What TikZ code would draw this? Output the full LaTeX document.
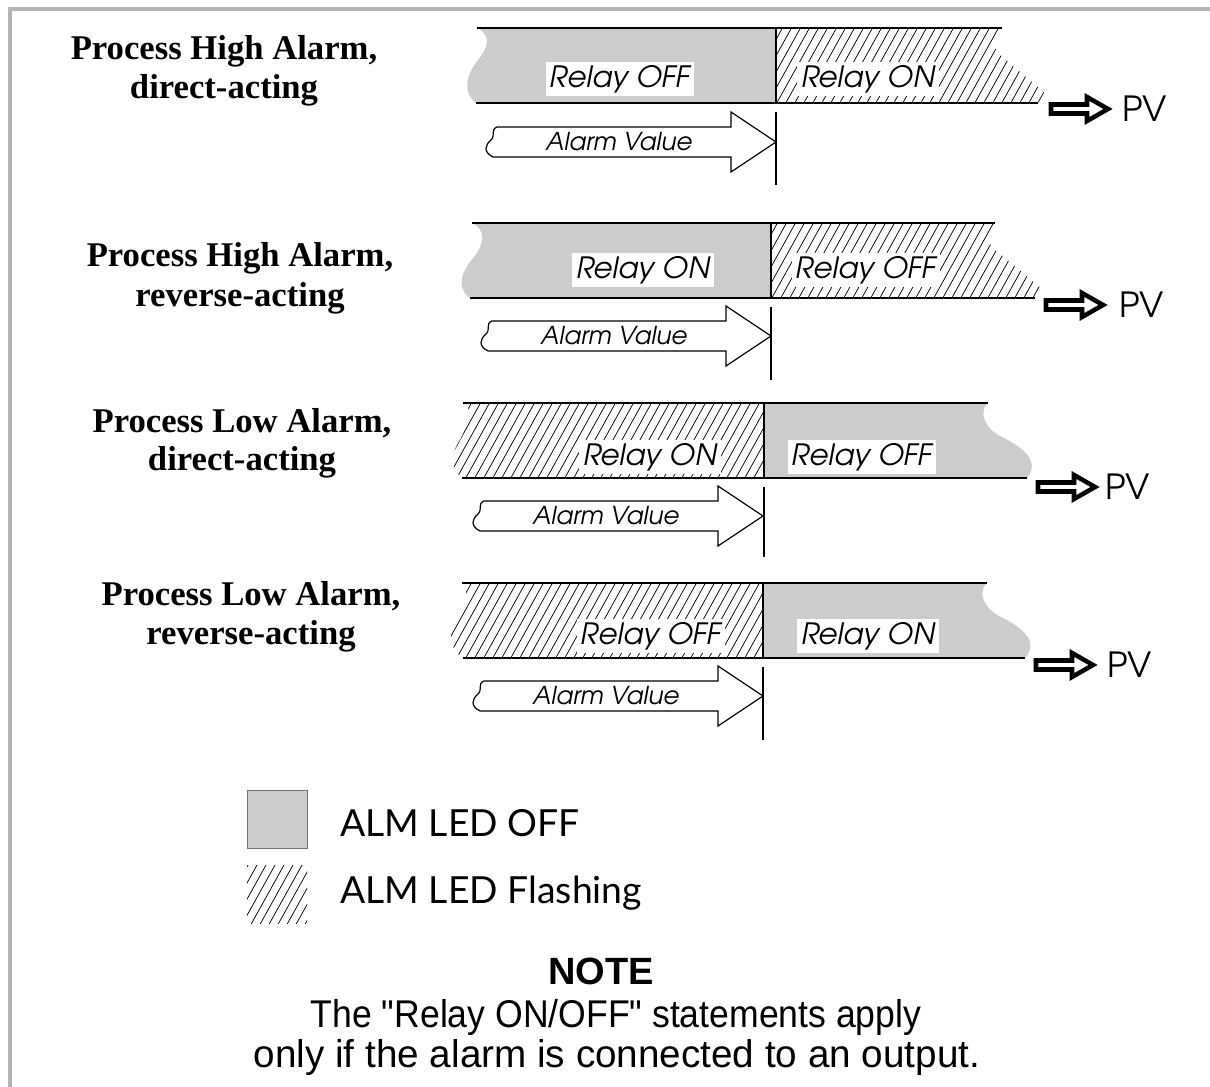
\documentclass[tikz,border=0pt]{standalone}
\usepackage{fontspec}
\setmainfont{Liberation Sans}
\newfontfamily\titlefont{Liberation Serif}
\newfontfamily\gothic[ItalicFont=texgyreadventor-italic.otf]{texgyreadventor-regular.otf}
\newfontfamily\legendfont{Lato}
\newcommand{\straightquote}{\XeTeXglyph\numexpr\XeTeXcharglyph"22\relax}
\definecolor{barfill}{RGB}{204,204,204}
\definecolor{framegray}{RGB}{180,180,180}
\tikzset{
  barline/.style={line width=1.1pt},
  splitline/.style={line width=0.9pt},
  hatchline/.style={line width=0.55pt},
  grayarea/.style={fill=barfill},
  relay/.style={font=\gothic\itshape\fontsize{22}{24}\selectfont, fill=white, inner xsep=3pt, inner ysep=2pt},
  valtext/.style={font=\gothic\itshape\fontsize{18.5}{20}\selectfont, inner sep=0pt},
  valarrow/.style={draw, line width=0.9pt, fill=white, line join=miter},
  pvarrow/.style={draw, line width=3.4pt, fill=white, line join=miter},
  pvtext/.style={font=\gothic\fontsize{26}{28}\selectfont, anchor=west, inner sep=0pt},
  title/.style={font=\titlefont\bfseries\fontsize{26}{28}\selectfont, inner sep=0pt},
  legendtext/.style={font=\legendfont\fontsize{28}{30}\selectfont, anchor=west, inner sep=0pt},
  notetext/.style={font=\fontsize{29}{31}\selectfont, anchor=base, inner sep=0pt},
}
% #1 tip x, #2 centre y
\newcommand{\valuearrow}[2]{%
  \draw[valarrow] ({#1-45},{#2-15}) -- ({#1-45},{#2-30}) -- (#1,#2) -- ({#1-45},{#2+30}) -- ({#1-45},{#2+15})
    -- ({#1-283},{#2+15}) .. controls ({#1-293},{#2+10}) and ({#1-291},{#2+3}) .. ({#1-285},{#2-2})
    .. controls ({#1-280},{#2-7}) and ({#1-286},{#2-12}) .. ({#1-279},{#2-15}) -- cycle;
}
% #1 left x, #2 centre y
\newcommand{\pvshape}[2]{%
  \draw[pvarrow] ({#1+3},{#2-4.5}) -- ({#1+39},{#2-4.5}) -- ({#1+39},{#2-12}) -- ({#1+60},{#2}) -- ({#1+39},{#2+12}) -- ({#1+39},{#2+4.5}) -- ({#1+3},{#2+4.5}) -- cycle;
}
% #1 x start, #2 y bottom, #3 count
\newcommand{\hatchfill}[3]{%
  \foreach \k in {0,...,#3} { \draw[hatchline] ({#1+9*\k},{#2+5}) -- ++(50,-90); }
}
\begin{document}
\begin{tikzpicture}[x=0.75pt,y=-0.75pt]
\useasboundingbox (0,0) rectangle (1210,1087);
\fill[white] (0,0) rectangle (1210,1087);
% frame
\draw[framegray, line width=3.5pt] (10,1087) -- (10,9) -- (1210,9);

% ---------- Diagram 1 ----------
\fill[grayarea] (776,28) -- (477,28) .. controls (492,35) and (488,48) .. (478,60) .. controls (466,75) and (462,92) .. (476,103) -- (776,103) -- cycle;
\begin{scope}
  \clip (776,28) -- (1002,28) -- (993,45) -- (998,53) -- (1047,95) -- (1038,103) -- (776,103) -- cycle;
  \hatchfill{720}{103}{38}
\end{scope}
\draw[barline] (477,28) -- (1002,28);
\draw[barline] (476,103) -- (1038,103);
\draw[splitline] (776,28) -- (776,103);
\draw[splitline] (776,112) -- (776,185);
\node[relay] (d1a) at (620,79) {Relay OFF};
\node[relay] (d1b) at (868,79) {Relay ON};
\valuearrow{776}{142}
\node[valtext] (d1v) at (619,142) {Alarm Value};
\pvshape{1048}{109}
\node[pvtext] (d1pv) at (1122,109) {PV};
\node[title] (t1a) at (224,51) {Process High Alarm,};
\node[title] (t1b) at (224,90) {direct-acting};

% ---------- Diagram 2 ----------
\fill[grayarea] (771,223) -- (472,223) .. controls (487,230) and (484,245) .. (474,257) .. controls (461,272) and (456,288) .. (470,298) -- (771,298) -- cycle;
\begin{scope}
  \clip (771,223) -- (995,223) -- (987,240) -- (993,248) -- (1042,289) -- (1035,298) -- (771,298) -- cycle;
  \hatchfill{715}{298}{38}
\end{scope}
\draw[barline] (472,223) -- (995,223);
\draw[barline] (470,298) -- (1035,298);
\draw[splitline] (771,223) -- (771,298);
\draw[splitline] (771,307) -- (771,380);
\node[relay] (d2a) at (643,270) {Relay ON};
\node[relay] (d2b) at (866,270) {Relay OFF};
\valuearrow{771}{336}
\node[valtext] (d2v) at (614,336) {Alarm Value};
\pvshape{1043}{305}
\node[pvtext] (d2pv) at (1119,305) {PV};
\node[title] (t2a) at (240,258) {Process High Alarm,};
\node[title] (t2b) at (240,298) {reverse-acting};

% ---------- Diagram 3 ----------
\begin{scope}
  \clip (764,403) -- (466,403) .. controls (472,412) and (468,425) .. (460,440) .. controls (450,455) and (450,468) .. (462,478) -- (764,478) -- cycle;
  \hatchfill{400}{478}{42}
\end{scope}
\fill[grayarea] (764,403) -- (988,403) .. controls (978,412) and (985,428) .. (1000,436) .. controls (1025,448) and (1040,462) .. (1027,478) -- (764,478) -- cycle;
\draw[barline] (463,403) -- (988,403);
\draw[barline] (462,478) -- (1027,478);
\draw[splitline] (764,403) -- (764,478);
\draw[splitline] (764,487) -- (764,557);
\node[relay] (d3a) at (650,457) {Relay ON};
\node[relay] (d3b) at (862,457) {Relay OFF};
\valuearrow{763}{516}
\node[valtext] (d3v) at (606,516) {Alarm Value};
\pvshape{1035}{487}
\node[pvtext] (d3pv) at (1105,487) {PV};
\node[title] (t3a) at (242,423) {Process Low Alarm,};
\node[title] (t3b) at (242,462) {direct-acting};

% ---------- Diagram 4 ----------
\begin{scope}
  \clip (763,583) -- (462,583) .. controls (470,592) and (466,605) .. (458,618) .. controls (448,632) and (448,648) .. (463,658) -- (763,658) -- cycle;
  \hatchfill{400}{658}{42}
\end{scope}
\fill[grayarea] (763,583) -- (987,583) .. controls (977,592) and (984,608) .. (999,616) .. controls (1024,628) and (1039,642) .. (1025,658) -- (763,658) -- cycle;
\draw[barline] (462,583) -- (987,583);
\draw[barline] (463,658) -- (1025,658);
\draw[splitline] (763,583) -- (763,658);
\draw[splitline] (763,667) -- (763,740);
\node[relay] (d4a) at (651,636) {Relay OFF};
\node[relay] (d4b) at (868,636) {Relay ON};
\valuearrow{763}{696}
\node[valtext] (d4v) at (606,696) {Alarm Value};
\pvshape{1033}{665}
\node[pvtext] (d4pv) at (1107,665) {PV};
\node[title] (t4a) at (251,596) {Process Low Alarm,};
\node[title] (t4b) at (251,636) {reverse-acting};

% ---------- Legend ----------
\draw[grayarea, draw=black!55, line width=0.6pt] (247,790) rectangle (307,848);
\begin{scope}
  \clip (247,865) rectangle (307,923);
  \foreach \k in {0,...,14} { \draw[hatchline] ({195+9*\k},928) -- ++(60,-108); }
\end{scope}
\node[legendtext] (l1) at (340,823) {ALM LED OFF};
\node[legendtext] (l2) at (340,893) {ALM LED Flashing};

% ---------- Note ----------
\node[notetext, font=\bfseries\fontsize{28.5}{30}\selectfont] (n0) at (601,984) {NOTE};
\node[notetext] (n1) at (616,1027) {\scalebox{0.92}[1]{The \straightquote Relay ON/OFF\straightquote\ statements apply}};
\node[notetext] (n2) at (617,1067) {only if the alarm is connected to an output.};
\end{tikzpicture}
\end{document}
